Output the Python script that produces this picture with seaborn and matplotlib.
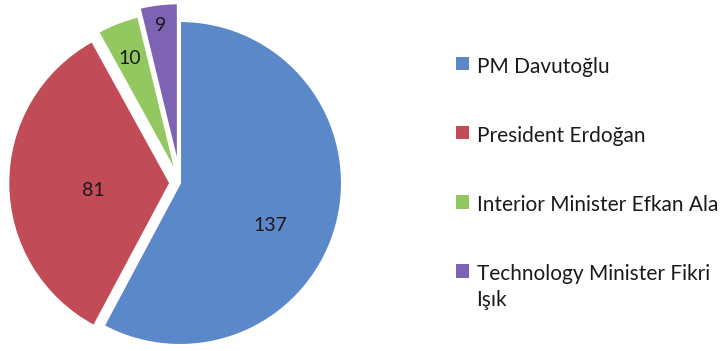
import numpy as np
import matplotlib
matplotlib.use("Agg")
import matplotlib.pyplot as plt
import seaborn as sns

categories = ["PM Davutoğlu", "President Erdoğan", "Interior Minister Efkan Ala",
              "Technology Minister Fikri\nIşık"]
values = [137, 81, 10, 9]
colors = ["#5A88C8", "#C24B58", "#92C85F", "#7E62B4"]
explode = [0.0, 0.06, 0.06, 0.11]
label_r = [0.615, 0.48, 0.77, 0.87]
label_frac = [0.445, 0.54, 0.54, 0.5]

sns.set_theme(style="white")
plt.rcParams["font.family"] = ["Lato", "DejaVu Sans"]

W, H = 726, 351
fig = plt.figure(figsize=(W / 100, H / 100), dpi=100)
R = 162.0
cx, cy = 180.0, H - 183.0
lim = 1.15
side = 2 * lim * R
ax = fig.add_axes([(cx - side / 2) / W, (cy - side / 2) / H, side / W, side / H])

wedges, _ = ax.pie(values, colors=colors, startangle=90, counterclock=False,
                   explode=explode, radius=1.0,
                   wedgeprops=dict(edgecolor="white", linewidth=1.5))
for w, v, lr, fr in zip(wedges, values, label_r, label_frac):
    ang = np.deg2rad(w.theta1 + fr * (w.theta2 - w.theta1))
    ox, oy = w.center
    ax.text(ox + lr * np.cos(ang), oy + lr * np.sin(ang), str(v),
            ha="center", va="center", fontsize=14, color="#1a1a1a")
ax.set_xlim(-lim, lim)
ax.set_ylim(-lim, lim)
ax.set_aspect("equal")
ax.axis("off")

leg = fig.legend(wedges, categories, loc="upper left",
                 bbox_to_anchor=(437 / W, 1 - 38 / H), frameon=False,
                 fontsize=15, handlelength=0.62, handleheight=0.62,
                 handletextpad=0.38, labelspacing=2.36, labelcolor="#1a1a1a")
for h in leg.legend_handles:
    h.set_linewidth(0)
for t in leg.get_texts():
    t.set_linespacing(1.35)
# align handles with the first line of multi-line labels
for col in leg._legend_handle_box.get_children():
    for item in col.get_children():
        item.align = "top"

fig.savefig("out.png", dpi=100)
